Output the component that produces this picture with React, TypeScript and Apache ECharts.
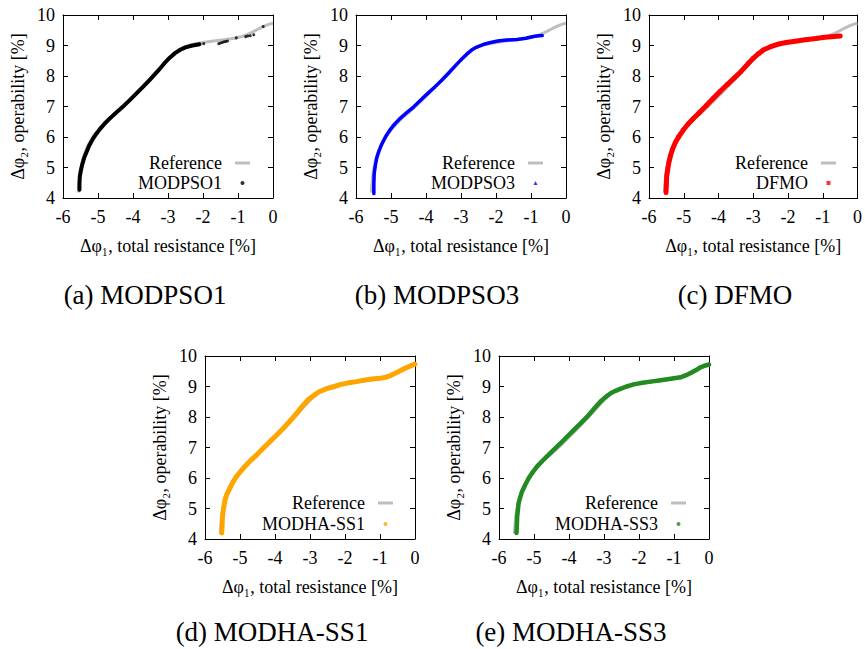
import React, { useEffect, useRef } from 'react';
import * as echarts from 'echarts';

// ---------- data ----------
const X_MIN = -6;
const X_MAX = 0;
const Y_MIN = 4;
const Y_MAX = 10;

const REFERENCE: number[][] = [
  [-5.56, 4.18], [-5.54, 4.5], [-5.51, 4.85], [-5.46, 5.15], [-5.4, 5.4], [-5.3, 5.7],
  [-5.15, 6.0], [-4.95, 6.3], [-4.7, 6.6], [-4.4, 6.9], [-4.1, 7.22], [-3.8, 7.57],
  [-3.5, 7.93], [-3.2, 8.3], [-3.0, 8.55], [-2.8, 8.77], [-2.6, 8.92], [-2.4, 9.01],
  [-2.2, 9.06], [-2.0, 9.1], [-1.7, 9.15], [-1.4, 9.19], [-1.1, 9.24], [-0.9, 9.29],
  [-0.8, 9.33], [-0.6, 9.43], [-0.4, 9.55], [-0.2, 9.66], [-0.08, 9.71], [0, 9.72],
];

const MODPSO1: number[][] = [
  [-5.53, 4.27], [-5.53, 4.45], [-5.52, 4.7], [-5.49, 4.9], [-5.45, 5.1], [-5.4, 5.3],
  [-5.33, 5.5], [-5.25, 5.72], [-5.15, 5.93], [-5.05, 6.1], [-4.95, 6.25], [-4.8, 6.45],
  [-4.65, 6.62], [-4.5, 6.78], [-4.3, 6.98], [-4.1, 7.2], [-3.9, 7.43], [-3.7, 7.66],
  [-3.5, 7.9], [-3.3, 8.15], [-3.1, 8.42], [-2.95, 8.6], [-2.8, 8.75], [-2.65, 8.86],
  [-2.5, 8.94], [-2.3, 9.0], [-2.1, 9.04],
];
const MODPSO1_SPARSE: number[][] = [
  [-1.98, 9.06], [-1.55, 9.06], [-1.5, 9.08], [-1.45, 9.1], [-1.4, 9.12], [-1.35, 9.13],
  [-1.3, 9.15], [-1.05, 9.25], [-0.78, 9.29], [-0.72, 9.31], [-0.65, 9.32],
  [-0.55, 9.35], [-0.28, 9.62],
];

const MODPSO3: number[][] = [
  [-5.49, 4.15], [-5.49, 4.45], [-5.48, 4.8], [-5.45, 5.05], [-5.41, 5.3], [-5.35, 5.52],
  [-5.27, 5.75], [-5.16, 6.0], [-5.05, 6.2], [-4.9, 6.42], [-4.73, 6.62], [-4.55, 6.8],
  [-4.35, 6.99], [-4.15, 7.21], [-3.95, 7.43], [-3.75, 7.64], [-3.55, 7.86], [-3.35, 8.1],
  [-3.15, 8.35], [-3.0, 8.53], [-2.85, 8.7], [-2.7, 8.85], [-2.55, 8.95], [-2.35, 9.04],
  [-2.15, 9.1], [-1.95, 9.15], [-1.7, 9.18], [-1.4, 9.2], [-1.15, 9.24], [-1.0, 9.28],
  [-0.85, 9.31], [-0.68, 9.33],
];

const DFMO: number[][] = [
  [-5.51, 4.18], [-5.5, 4.45], [-5.49, 4.71], [-5.46, 4.95], [-5.43, 5.15], [-5.39, 5.35],
  [-5.33, 5.58], [-5.25, 5.8], [-5.15, 6.0], [-5.02, 6.22], [-4.88, 6.42], [-4.73, 6.6],
  [-4.55, 6.8], [-4.35, 7.03], [-4.15, 7.27], [-3.95, 7.5], [-3.75, 7.72], [-3.55, 7.93],
  [-3.35, 8.15], [-3.15, 8.4], [-3.0, 8.58], [-2.85, 8.73], [-2.7, 8.86], [-2.5, 8.96],
  [-2.3, 9.04], [-2.05, 9.1], [-1.8, 9.14], [-1.5, 9.19], [-1.2, 9.23], [-0.95, 9.27],
  [-0.75, 9.29], [-0.5, 9.31],
];

const MODHA_SS1: number[][] = [
  [-5.52, 4.2], [-5.51, 4.5], [-5.5, 4.74], [-5.47, 5.0], [-5.43, 5.28], [-5.37, 5.48],
  [-5.29, 5.67], [-5.2, 5.87], [-5.1, 6.05], [-4.98, 6.22], [-4.86, 6.38], [-4.7, 6.57],
  [-4.52, 6.76], [-4.33, 6.98], [-4.14, 7.2], [-3.95, 7.41], [-3.76, 7.63], [-3.57, 7.87],
  [-3.38, 8.12], [-3.2, 8.38], [-3.05, 8.57], [-2.9, 8.7], [-2.75, 8.82], [-2.52, 8.93],
  [-2.3, 9.0], [-2.14, 9.06], [-1.9, 9.12], [-1.67, 9.16], [-1.45, 9.21], [-1.29, 9.24],
  [-1.1, 9.26], [-1.0, 9.27], [-0.85, 9.3], [-0.7, 9.36], [-0.52, 9.46], [-0.38, 9.54],
  [-0.24, 9.62], [-0.1, 9.69], [0, 9.73],
];

const MODHA_SS3: number[][] = [
  [-5.5, 4.2], [-5.49, 4.45], [-5.48, 4.74], [-5.46, 4.95], [-5.44, 5.18], [-5.39, 5.38],
  [-5.34, 5.56], [-5.25, 5.78], [-5.15, 6.0], [-5.03, 6.2], [-4.91, 6.38], [-4.77, 6.55],
  [-4.63, 6.71], [-4.44, 6.92], [-4.24, 7.14], [-4.05, 7.36], [-3.86, 7.58], [-3.67, 7.79],
  [-3.48, 8.01], [-3.29, 8.26], [-3.1, 8.51], [-2.95, 8.66], [-2.81, 8.78], [-2.67, 8.86],
  [-2.53, 8.92], [-2.35, 9.0], [-2.15, 9.07], [-1.9, 9.12], [-1.67, 9.16], [-1.43, 9.2],
  [-1.19, 9.24], [-1.0, 9.27], [-0.81, 9.3], [-0.65, 9.37], [-0.52, 9.44], [-0.38, 9.53],
  [-0.24, 9.63], [-0.1, 9.69], [0, 9.72],
];

const METHOD_NAMES = ['MODPSO1', 'MODPSO3', 'DFMO', 'MODHA-SS1', 'MODHA-SS3'];
const CAPTIONS = ['(a) MODPSO1', '(b) MODPSO3', '(c) DFMO', '(d) MODHA-SS1', '(e) MODHA-SS3'];
const REFERENCE_NAME = 'Reference';
const X_TITLE = 'Δφ₁, total resistance [%]';
const Y_TITLE = 'Δφ₂, operability [%]';

// ---------- layout & style ----------
const FONT = 'Liberation Serif';
const BANDS = [MODPSO1, MODPSO3, DFMO, MODHA_SS1, MODHA_SS3];
const SPARSE = [MODPSO1_SPARSE, [], [], [], []];
const STYLES = [
  { color: '#000000', symbol: 'circle', size: 3, width: 4, icon: 4 },
  { color: '#0000ff', symbol: 'triangle', size: 3, width: 3.5, icon: 4 },
  { color: '#ff0000', symbol: 'rect', size: 4, width: 5, icon: 4 },
  { color: '#ffa500', symbol: 'circle', size: 4, width: 5, icon: 4 },
  { color: '#228b22', symbol: 'circle', size: 3.5, width: 4.5, icon: 4 },
];
const GRIDS = [
  { left: 63, top: 15 },
  { left: 356, top: 15 },
  { left: 649, top: 15 },
  { left: 205, top: 356 },
  { left: 499, top: 356 },
];
const GRID_W = 210;
const GRID_H = 183;
const LEGENDS = [
  { iconRight: 250, row1: 163, row2: 183 },
  { iconRight: 543, row1: 163, row2: 183 },
  { iconRight: 836, row1: 163, row2: 183 },
  { iconRight: 393, row1: 503, row2: 524 },
  { iconRight: 686, row1: 503, row2: 524 },
];
const CAPTION_POS = [
  { x: 145, y: 295 },
  { x: 437, y: 295 },
  { x: 735, y: 295 },
  { x: 272, y: 632 },
  { x: 571, y: 632 },
];
const CHART_W = 865;
const CHART_H = 649;

function buildOption() {
  const grid: any[] = [];
  const xAxis: any[] = [];
  const yAxis: any[] = [];
  const series: any[] = [];
  const legend: any[] = [];
  const graphic: any[] = [];
  const txt = { fontFamily: FONT, fontSize: 18, color: '#000' };
  const line = { show: true, onZero: false, lineStyle: { color: '#000', width: 1 } };
  const tick = { show: true, inside: true, length: 5, lineStyle: { color: '#000', width: 1 } };
  const lineIconW = 15;

  METHOD_NAMES.forEach((name, i) => {
    const g = GRIDS[i];
    const st = STYLES[i];
    const lg = LEGENDS[i];
    grid.push({ left: g.left, top: g.top, width: GRID_W, height: GRID_H, containLabel: false });
    const xBase = { gridIndex: i, type: 'value', min: X_MIN, max: X_MAX, interval: 1, splitLine: { show: false }, axisLine: line, axisTick: tick };
    const yBase = { gridIndex: i, type: 'value', min: Y_MIN, max: Y_MAX, interval: 1, splitLine: { show: false }, axisLine: line, axisTick: tick };
    xAxis.push({
      ...xBase, position: 'bottom',
      axisLabel: { ...txt, margin: 10 },
      name: X_TITLE, nameLocation: 'middle', nameGap: 39, nameTextStyle: { ...txt },
    });
    xAxis.push({ ...xBase, position: 'top', axisLabel: { show: false } });
    yAxis.push({
      ...yBase, position: 'left',
      axisLabel: { ...txt, margin: 8 },
      name: Y_TITLE, nameLocation: 'middle', nameGap: 36, nameTextStyle: { ...txt },
    });
    yAxis.push({ ...yBase, position: 'right', axisLabel: { show: false } });

    series.push({
      type: 'line', name: REFERENCE_NAME, xAxisIndex: 2 * i, yAxisIndex: 2 * i,
      data: REFERENCE, symbol: 'none', showSymbol: false, color: '#bebebe',
      lineStyle: { color: '#bebebe', width: 3 }, silent: true, z: 1,
    });
    series.push({
      type: 'scatter', name, xAxisIndex: 2 * i, yAxisIndex: 2 * i,
      data: BANDS[i].concat(SPARSE[i]), symbol: st.symbol, symbolSize: st.size,
      color: st.color, itemStyle: { color: st.color }, silent: true, z: 3,
    });
    series.push({
      type: 'line', name, xAxisIndex: 2 * i, yAxisIndex: 2 * i,
      data: BANDS[i], symbol: 'none', showSymbol: false, color: st.color,
      lineStyle: { color: st.color, width: st.width, cap: 'round', join: 'round' }, silent: true, z: 2,
    });

    const textGapRef = 8;
    legend.push({
      orient: 'vertical', align: 'right', right: CHART_W - lg.iconRight, top: lg.row1 - 9,
      itemWidth: lineIconW, itemHeight: 3, padding: 0, selectedMode: false,
      textStyle: { ...txt, padding: [0, textGapRef, 0, 0] },
      data: [{ name: REFERENCE_NAME, icon: 'rect' }],
    });
    const iconRight = lg.iconRight - (lineIconW - st.icon) / 2;
    legend.push({
      orient: 'vertical', align: 'right', right: CHART_W - iconRight, top: lg.row2 - 9,
      itemWidth: st.icon, itemHeight: st.icon, padding: 0, selectedMode: false,
      textStyle: { ...txt, padding: [0, textGapRef + (lineIconW - st.icon) / 2, 0, 0] },
      data: [{ name, icon: st.symbol }],
    });

    graphic.push({
      type: 'text', x: CAPTION_POS[i].x, y: CAPTION_POS[i].y, silent: true,
      style: { text: CAPTIONS[i], fontFamily: FONT, fontSize: 27, fill: '#000', align: 'center', verticalAlign: 'middle' },
    });
  });

  return { animation: false, backgroundColor: '#fff', grid, xAxis, yAxis, series, legend, graphic };
}

export default function App() {
  const ref = useRef<HTMLDivElement>(null);
  useEffect(() => {
    if (!ref.current) return;
    const chart = echarts.init(ref.current, null, { renderer: 'svg' });
    chart.setOption(buildOption() as any);
    return () => chart.dispose();
  }, []);
  return <div ref={ref} style={{ position: 'fixed', left: 0, top: 0, width: CHART_W, height: CHART_H, background: '#fff' }} />;
}
